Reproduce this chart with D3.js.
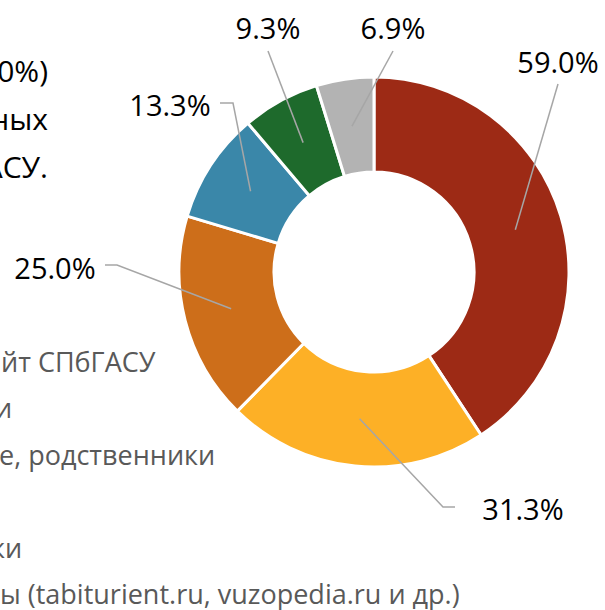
<!DOCTYPE html>
<html><head><meta charset="utf-8">
<script src="https://cdn.jsdelivr.net/npm/d3@7"></script>
<style>html,body{margin:0;padding:0;background:#fff;overflow:hidden}</style>
</head><body>
<svg id="c" width="605" height="610"></svg>
<script>
// Data
const categories = ["Официальный сайт СПбГАСУ","Социальные сети","Друзья, знакомые, родственники","Школа","Дни открытых дверей, ярмарки","Другие сайты (tabiturient.ru, vuzopedia.ru и др.)"];
const values = [59.0, 31.3, 25.0, 13.3, 9.3, 6.9];
const valueLabels = ["59.0%","31.3%","25.0%","13.3%","9.3%","6.9%"];
const titleFragments = ["0%)","ных","АСУ."];
const legendFragments = ["йт СПбГАСУ","и","е, родственники","","ки","ы (tabiturient.ru, vuzopedia.ru и др.)"];

const colors = ["#9D2A15","#FDB026","#CD6E1A","#3A87A9","#1E6A2C","#B3B3B3"];
const svg = d3.select("#c");
const cx = 374, cy = 272, R = 195, r0 = 100;

const pie = d3.pie().sort(null).value(d => d)(values);
const arc = d3.arc().innerRadius(r0).outerRadius(R);
const g = svg.append("g").attr("transform", `translate(${cx},${cy})`);
g.selectAll("path").data(pie).join("path")
  .attr("d", arc).attr("fill", (d,i) => colors[i])
  .attr("stroke", "#fff").attr("stroke-width", 3).attr("stroke-linejoin","miter");

// label layout
const layout = [
  {tx:558, ty:73, pts:[[558,84]]},
  {tx:523, ty:520, pts:[[443,507],[455,507]]},
  {tx:55,  ty:279, pts:[[117,265],[105,265]]},
  {tx:170, ty:116, pts:[[233,103],[220,103]]},
  {tx:268, ty:39, pts:[[268,51]]},
  {tx:393, ty:39, pts:[[393,51]]}
];
pie.forEach((d,i) => {
  const c = arc.centroid(d);
  const pts = [[c[0]+cx, c[1]+cy]].concat(layout[i].pts);
  svg.append("path").attr("d", d3.line()(pts))
    .attr("fill","none").attr("stroke","#A6A6A6").attr("stroke-width",1.5);
  svg.append("text").attr("x", layout[i].tx).attr("y", layout[i].ty)
    .attr("text-anchor", "middle")
    .attr("font-family","'Open Sans', sans-serif").attr("font-size", 29)
    .attr("fill","#000").text(valueLabels[i]);
});

// title fragments (cropped in reference)
titleFragments.forEach((t,i) => {
  svg.append("text").attr("x", 48).attr("y", 82 + i*48).attr("text-anchor","end")
    .attr("font-family","'Open Sans', sans-serif").attr("font-size", 30)
    .attr("fill","#000").text(t);
});
// legend fragments (cropped in reference)
const legX = [1,-5,-1,0,-9,0];
legendFragments.forEach((t,i) => {
  svg.append("text").attr("x", legX[i]).attr("y", 372 + i*46.4)
    .attr("font-family","'Open Sans', sans-serif").attr("font-size", 27)
    .attr("fill","#595959").text(t);
});
</script>
</body></html>
